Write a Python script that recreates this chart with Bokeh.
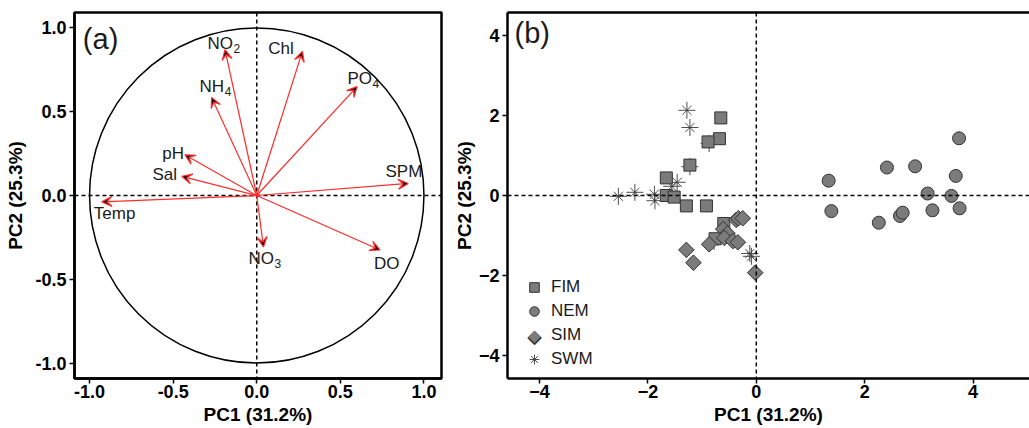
import math
from bokeh.plotting import figure
from bokeh.models import (Arrow, VeeHead, Span, ColumnDataSource, FixedTicker, Label,
                          Legend, LegendItem, LinearAxis, NumeralTickFormatter, Range1d)
from bokeh.layouts import row
from bokeh.embed import file_html
from bokeh.resources import INLINE
from bokeh.core.properties import value

# ---------------- data ----------------
var_base = ["NO", "Chl", "PO", "NH", "pH", "Sal", "SPM", "Temp", "NO", "DO"]
var_sub = ["2", "", "4", "4", "", "", "", "", "3", ""]
pc1_load = [-0.19, 0.273, 0.60, -0.27, -0.43, -0.448, 0.906, -0.926, 0.04, 0.737]
pc2_load = [0.87, 0.86, 0.65, 0.585, 0.243, 0.114, 0.072, -0.038, -0.307, -0.325]
# label anchors: centre for plain labels, base/subscript boundary for subscripted ones
label_x = [-0.142, 0.145, 0.689, -0.195, -0.50, -0.55, 0.88, -0.85, 0.103, 0.777]
label_y = [0.905, 0.875, 0.70, 0.649, 0.25, 0.127, 0.143, -0.105, -0.376, -0.406]

fim_x = [-0.655, -0.68, -0.89, -1.225, -1.66, -1.66, -1.515, -1.29, -0.92, -0.60, -0.76]
fim_y = [1.94, 1.42, 1.34, 0.76, 0.44, 0.0, -0.04, -0.26, -0.26, -0.70, -1.08]

nem_x = [1.335, 1.385, 2.41, 2.93, 2.26, 2.65, 2.70, 3.16, 3.25, 3.60, 3.68, 3.74, 3.75]
nem_y = [0.37, -0.39, 0.70, 0.73, -0.68, -0.51, -0.43, 0.05, -0.37, -0.01, 0.49, 1.43, -0.32]

sim_x = [-0.37, -0.33, -0.25, -0.61, -0.53, -0.59, -0.43, -0.34, -0.87, -1.29, -1.16, -0.02]
sim_y = [-0.61, -0.57, -0.57, -0.84, -0.95, -1.06, -1.14, -1.17, -1.22, -1.36, -1.68, -1.93]

swm_x = [-1.28, -1.225, -0.87, -1.225, -1.46, -1.56, -2.545, -2.24, -1.88, -1.87, -0.12, -0.09, -0.78]
swm_y = [2.13, 1.70, 1.30, 0.72, 0.33, 0.23, -0.02, 0.08, 0.03, -0.13, -1.45, -1.52, -1.15]

seasons = ["FIM", "NEM", "SIM", "SWM"]
ticks_a = [-1.0, -0.5, 0.0, 0.5, 1.0]
ticks_b = [-4, -2, 0, 2, 4]
x_title = "PC1 (31.2%)"
y_title = "PC2 (25.3%)"

FONT = "Liberation Sans"
RED = "#ff2a2a"


def style_axis(ax, ticks, fmt=None):
    ax.ticker = FixedTicker(ticks=ticks)
    if fmt is not None:
        ax.formatter = fmt
    ax.axis_line_color = "black"
    ax.axis_line_width = 2.5
    ax.major_tick_line_color = "black"
    ax.major_tick_line_width = 1.5
    ax.major_tick_out = 5
    ax.major_tick_in = 0
    ax.minor_tick_line_color = None
    ax.major_label_text_font = FONT
    ax.major_label_text_font_style = "bold"
    ax.major_label_text_font_size = "18px"
    ax.major_label_text_color = "black"
    ax.axis_label_text_font = FONT
    ax.axis_label_text_font_style = "bold"
    ax.axis_label_text_font_size = "19px"
    ax.axis_label_text_color = "black"


# ---------------- panel (a) ----------------
p1 = figure(width=450, height=428, x_range=Range1d(-1.09, 1.105), y_range=Range1d(-1.092, 1.092),
            output_backend="svg", toolbar_location=None,
            min_border_left=74, min_border_right=9, min_border_top=12, min_border_bottom=50)
p1.grid.visible = False
p1.outline_line_color = "black"
p1.outline_line_width = 2.5
p1.outline_line_alpha = 1.0
style_axis(p1.xaxis[0], ticks_a, NumeralTickFormatter(format="0.0"))
style_axis(p1.yaxis[0], ticks_a, NumeralTickFormatter(format="0.0"))
p1.xaxis[0].axis_label = x_title
p1.yaxis[0].axis_label = y_title
p1.xaxis[0].major_label_standoff = 1
p1.xaxis[0].axis_label_standoff = 3
p1.yaxis[0].major_label_standoff = 3
p1.yaxis[0].axis_label_standoff = 6

p1.add_layout(Span(location=0, dimension="width", line_color="black", line_width=1.5, line_dash="4 3"))
p1.add_layout(Span(location=0, dimension="height", line_color="black", line_width=1.5, line_dash="4 3"))
p1.ellipse(x=[0], y=[0], width=[2], height=[2], fill_color=None, line_color="black", line_width=1.5)

load_src = ColumnDataSource(dict(x0=[0] * len(pc1_load), y0=[0] * len(pc1_load),
                                 x1=pc1_load, y1=pc2_load))
p1.add_layout(Arrow(end=VeeHead(size=10, line_color=RED, line_width=1.2),
                    x_start="x0", y_start="y0", x_end="x1", y_end="y1", source=load_src,
                    line_color=RED, line_width=1.2))

plain = [i for i, s in enumerate(var_sub) if s == ""]
subd = [i for i, s in enumerate(var_sub) if s != ""]
src_plain = ColumnDataSource(dict(x=[label_x[i] for i in plain], y=[label_y[i] for i in plain],
                                  t=[var_base[i] for i in plain]))
src_base = ColumnDataSource(dict(x=[label_x[i] for i in subd], y=[label_y[i] for i in subd],
                                 t=[var_base[i] for i in subd], s=[var_sub[i] for i in subd]))
p1.text(x="x", y="y", text="t", source=src_plain, text_font=value(FONT), text_font_size="17px",
        text_align="center", text_baseline="middle", text_color="#1a1a1a")
p1.text(x="x", y="y", text="t", source=src_base, text_font=value(FONT), text_font_size="17px",
        text_align="right", text_baseline="middle", text_color="#1a1a1a")
p1.text(x="x", y="y", text="s", source=src_base, text_font=value(FONT), text_font_size="12px",
        text_align="left", text_baseline="middle", text_color="#1a1a1a", y_offset=5, x_offset=0.5)
p1.add_layout(Label(x=-1.04, y=0.935, text="(a)", text_font=FONT, text_font_size="29px",
                    text_baseline="middle", text_align="left", text_color="#1a1a1a"))

# ---------------- panel (b) ----------------
p2 = figure(width=579, height=428, x_range=Range1d(-4.59, 5.04), y_range=Range1d(-4.575, 4.575),
            output_backend="svg", toolbar_location=None,
            min_border_left=55, min_border_right=0, min_border_top=12, min_border_bottom=50)
p2.grid.visible = False
p2.outline_line_color = None
style_axis(p2.xaxis[0], ticks_b)
style_axis(p2.yaxis[0], ticks_b)
p2.xaxis[0].axis_label = x_title
p2.yaxis[0].axis_label = y_title
p2.xaxis[0].major_label_standoff = 1
p2.xaxis[0].axis_label_standoff = 3
p2.yaxis[0].major_label_standoff = 3
p2.yaxis[0].axis_label_standoff = 1
top_ax = LinearAxis(ticker=FixedTicker(ticks=[]), axis_line_color="black", axis_line_width=2.5,
                    major_tick_line_color=None, minor_tick_line_color=None,
                    major_label_text_font_size="0px")
p2.add_layout(top_ax, "above")

p2.add_layout(Span(location=0, dimension="width", line_color="black", line_width=1.5, line_dash="4 3"))
p2.add_layout(Span(location=0, dimension="height", line_color="black", line_width=1.5, line_dash="4 3"))

FILL = "#7b7b7b"
EDGE = "#333333"
STAR = "#3a3a3a"
r_sw1 = p2.scatter(swm_x, swm_y, marker="cross", size=17, line_color=STAR, line_width=0.9)
r_sw2 = p2.scatter(swm_x, swm_y, marker="x", size=13, line_color=STAR, line_width=0.9)
r_fim = p2.scatter(fim_x, fim_y, marker="square", size=12, fill_color=FILL, line_color=EDGE, line_width=1)
r_nem = p2.scatter(nem_x, nem_y, marker="circle", size=13, fill_color=FILL, line_color=EDGE, line_width=1)
r_sim = p2.scatter(sim_x, sim_y, marker="square", angle=math.pi / 4, size=11, fill_color=FILL,
                   line_color=EDGE, line_width=1)
# legend placeholder for SIM (legend glyphs ignore rotation; the diamond symbol is drawn below)
r_sim_leg = p2.scatter(x=[], y=[], marker="square", fill_alpha=0, line_alpha=0)

legend = Legend(items=[LegendItem(label=seasons[0], renderers=[r_fim]),
                       LegendItem(label=seasons[1], renderers=[r_nem]),
                       LegendItem(label=seasons[2], renderers=[r_sim_leg]),
                       LegendItem(label=seasons[3], renderers=[r_sw1, r_sw2])],
                location=(15, 7), border_line_color=None, background_fill_alpha=0,
                label_text_font=FONT, label_text_font_size="17px", label_text_color="#1a1a1a",
                glyph_width=24, glyph_height=24, spacing=0, label_standoff=5,
                padding=0, margin=0)
p2.add_layout(legend)
p2.add_layout(Label(x=27, y=43, x_units="screen", y_units="screen", text="\u25c6",
                    text_font="DejaVu Sans", text_font_size="19px", text_color=EDGE,
                    text_align="center", text_baseline="middle"))
p2.add_layout(Label(x=27, y=43, x_units="screen", y_units="screen", text="\u25c6",
                    text_font="DejaVu Sans", text_font_size="16px", text_color=FILL,
                    text_align="center", text_baseline="middle"))
p2.add_layout(Label(x=-4.46, y=4.07, text="(b)", text_font=FONT, text_font_size="29px",
                    text_baseline="middle", text_align="left", text_color="#1a1a1a"))

layout = row(p1, p2)
open("out.html", "w").write(file_html(layout, INLINE))
